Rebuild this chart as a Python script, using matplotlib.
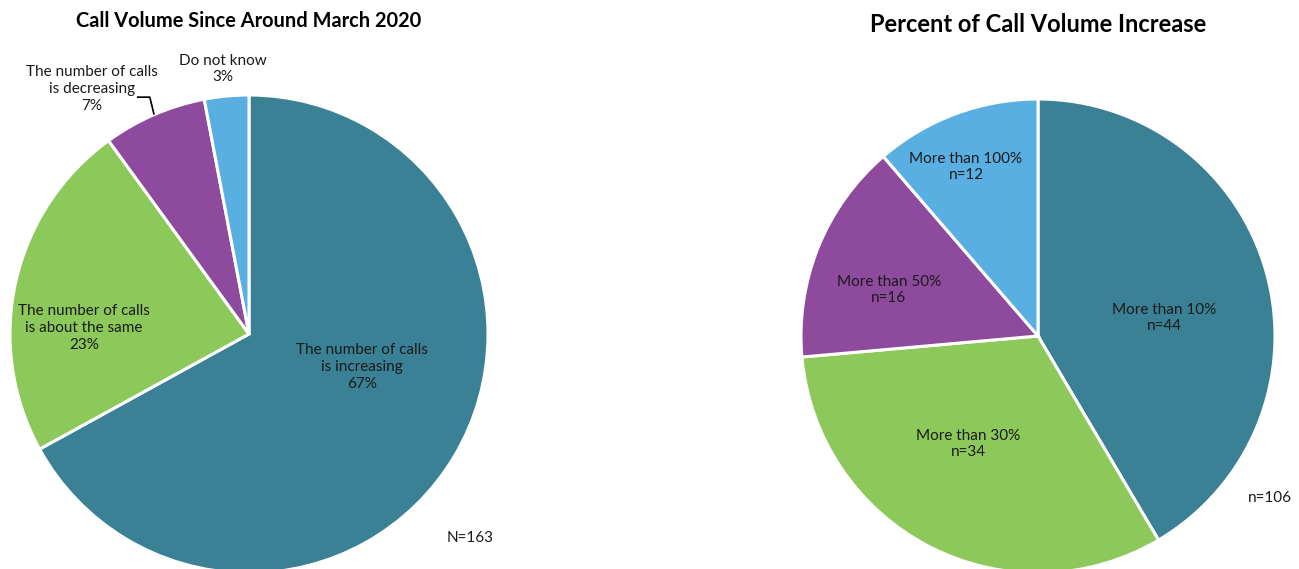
import matplotlib.pyplot as plt
import numpy as np

plt.rcParams["font.family"] = ["Lato", "DejaVu Sans"]

# Left chart: how call volume has changed since around March 2020
volume_labels = [
    "The number of calls\nis increasing",
    "The number of calls\nis about the same",
    "The number of calls\nis decreasing",
    "Do not know",
]
volume_pct = [67, 23, 7, 3]
volume_total = 163

# Right chart: size of the increase among those reporting one
increase_labels = ["More than 10%", "More than 30%", "More than 50%", "More than 100%"]
increase_n = [44, 34, 16, 12]

COLORS = ["#3a8196", "#8cc85a", "#8e4a9c", "#5aafe2"]
TEXT = "#1a1a1a"
W, H = 1299, 569
FS = 11


def pie_axes(fig, cx, cy, r):
    """Axes whose unit circle sits at pixel centre (cx, cy) with radius r."""
    return fig.add_axes([(cx - r) / W, (H - cy - r) / H, 2 * r / W, 2 * r / H])


def draw_pie(ax, values):
    wedges, _ = ax.pie(
        values,
        colors=COLORS,
        startangle=90,
        counterclock=False,
        radius=1.0,
        wedgeprops=dict(edgecolor="white", linewidth=2.2),
    )
    for w in wedges:
        w.set_clip_on(False)
    ax.set_xlim(-1, 1)
    ax.set_ylim(-1, 1)
    ax.set_aspect("equal")
    ax.axis("off")
    return wedges


fig = plt.figure(figsize=(W / 100, H / 100), dpi=100)

# ---- left pie ----
ax1 = pie_axes(fig, 249, 334, 239)
draw_pie(ax1, volume_pct)
fig.text(249 / W, 1 - 21 / H, "Call Volume Since Around March 2020",
         ha="center", va="center", fontsize=14.4, fontweight="bold", color="black")

left_pos = [(0.473, -0.138), (-0.690, 0.025), (-0.657, 1.025), (-0.109, 1.109)]
for lab, pct, (x, y) in zip(volume_labels, volume_pct, left_pos):
    ax1.text(x, y, f"{lab}\n{pct}%", ha="center", va="center",
             fontsize=FS, color=TEXT, linespacing=1.25, clip_on=False)

# leader from the small purple slice up to its outside label
t0 = np.deg2rad(90 - 360 * sum(volume_pct[:2]) / 100)
t1 = np.deg2rad(90 - 360 * sum(volume_pct[:3]) / 100)
mid = (t0 + t1) / 2
tip = (np.cos(mid), np.sin(mid))
ax1.plot([-0.469, -0.415, tip[0]], [0.991, 0.991, tip[1]],
         color="black", lw=1.2, clip_on=False, solid_capstyle="butt")

ax1.text(0.925, -0.854, f"N={volume_total}", ha="center", va="center",
         fontsize=FS, color=TEXT, clip_on=False)

# ---- right pie ----
ax2 = pie_axes(fig, 1038, 336, 237)
draw_pie(ax2, increase_n)
fig.text(1038 / W, 1 - 24 / H, "Percent of Call Volume Increase",
         ha="center", va="center", fontsize=17, fontweight="bold", color="black")

right_pos = [(0.532, 0.076), (-0.295, -0.456), (-0.629, 0.194), (-0.304, 0.713)]
for lab, n, (x, y) in zip(increase_labels, increase_n, right_pos):
    ax2.text(x, y, f"{lab}\nn={n}", ha="center", va="center",
             fontsize=FS, color=TEXT, linespacing=1.25)

ax2.text(0.979, -0.684, f"n={sum(increase_n)}", ha="center", va="center",
         fontsize=FS, color=TEXT, clip_on=False)

fig.savefig("out.png", dpi=100, facecolor="white")
